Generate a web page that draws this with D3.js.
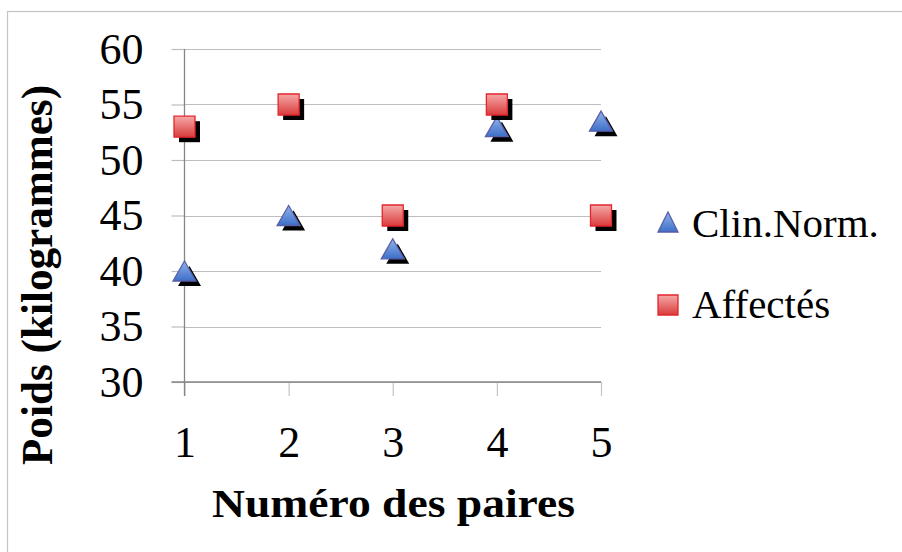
<!DOCTYPE html>
<html><head><meta charset="utf-8">
<script src="https://cdn.jsdelivr.net/npm/d3@7"></script>
<style>body{margin:0;background:#fff}svg{display:block}</style>
</head><body><svg id="c" width="902" height="552"></svg>
<script>
const pairs = [1, 2, 3, 4, 5];
const clinNorm = [40, 45, 42, 53, 53.5];
const affectes = [53, 55, 45, 55, 45];
const yTicks = [30, 35, 40, 45, 50, 55, 60];
const seriesNames = ["Clin.Norm.", "Affectés"];
const xTitle = "Numéro des paires";
const yTitle = "Poids (kilogrammes)";

const svg = d3.select("#c");
const defs = svg.append("defs");
function grad(id, c1, c2) {
  const g = defs.append("linearGradient").attr("id", id).attr("x1", 0).attr("y1", 0).attr("x2", 0).attr("y2", 1);
  g.append("stop").attr("offset", "0%").attr("stop-color", c1);
  g.append("stop").attr("offset", "100%").attr("stop-color", c2);
}
grad("gRed", "#f6a8a8", "#d93b3b");
grad("gBlue", "#93b4ec", "#3d6ec8");

svg.append("rect").attr("x", 7.5).attr("y", 11.5).attr("width", 1000).attr("height", 1000)
  .attr("fill", "none").attr("stroke", "#c4c4c4").attr("stroke-width", 1.2);

const x = d3.scaleLinear().domain([1, 5]).range([184.5, 601]);
const y = d3.scaleLinear().domain([30, 60]).range([382, 49]);
const FONT = "'Liberation Serif', 'Times New Roman', serif";

// gridlines
svg.append("g").selectAll("line").data(yTicks).join("line")
  .attr("x1", x(1)).attr("x2", x(5)).attr("y1", d => Math.round(y(d)) + 0.5).attr("y2", d => Math.round(y(d)) + 0.5)
  .attr("stroke", "#bdbdbd").attr("stroke-width", 1.2);

// y axis
const ya = svg.append("g").attr("transform", `translate(${x(1)},0)`)
  .call(d3.axisLeft(y).tickValues(yTicks).tickSize(13).tickPadding(28).tickSizeOuter(0));
ya.select(".domain").remove();
ya.selectAll(".tick line").attr("stroke", "#bdbdbd").attr("stroke-width", 1.2);
ya.selectAll(".tick text").attr("font-family", FONT).attr("font-size", 44).attr("fill", "#000");

// x axis
const xa = svg.append("g").attr("transform", `translate(0,${y(30)})`)
  .call(d3.axisBottom(x).tickValues(pairs).tickFormat(d3.format("d")).tickSize(14).tickPadding(30).tickSizeOuter(0));
xa.select(".domain").remove();
xa.selectAll(".tick line").attr("stroke", "#c4c4c4").attr("stroke-width", 1.2);
xa.selectAll(".tick text").attr("font-family", FONT).attr("font-size", 44).attr("fill", "#000");

// axis lines
svg.append("line").attr("x1", x(1)).attr("x2", x(1)).attr("y1", y(60)).attr("y2", y(30) + 14)
  .attr("stroke", "#868686").attr("stroke-width", 1.3);
svg.append("line").attr("x1", x(1) - 13).attr("x2", x(5)).attr("y1", y(30)).attr("y2", y(30))
  .attr("stroke", "#868686").attr("stroke-width", 1.3);

// markers
const TW = 23, TH = 20, SQ = 21, SH = 5;
const triPath = `M0,${-TH / 2}L${TW / 2},${TH / 2}L${-TW / 2},${TH / 2}Z`;
const sqPath = `M${-SQ / 2},${-SQ / 2}h${SQ}v${SQ}h${-SQ}Z`;
function drawSeries(vals, path, fill, stroke) {
  const g = svg.append("g");
  g.selectAll("path.sh").data(vals).join("path").attr("class", "sh")
    .attr("d", path).attr("fill", "#000")
    .attr("transform", (d, i) => `translate(${x(pairs[i]) + SH},${y(d) + SH})`);
  g.selectAll("path.mk").data(vals).join("path").attr("class", "mk")
    .attr("d", path).attr("fill", fill).attr("stroke", stroke).attr("stroke-width", 1.3)
    .attr("transform", (d, i) => `translate(${x(pairs[i])},${y(d)})`);
}
drawSeries(clinNorm, triPath, "url(#gBlue)", "#5a5ea6");
drawSeries(affectes, sqPath, "url(#gRed)", "#e2262c");

// legend
const lg = svg.append("g");
const legendItems = [
  { name: seriesNames[0], path: `M0,-10L10,10L-10,10Z`, fill: "url(#gBlue)", stroke: "#5a5ea6", cy: 222, by: 237 },
  { name: seriesNames[1], path: `M-10,-10h20v20h-20Z`, fill: "url(#gRed)", stroke: "#e2262c", cy: 305, by: 318 }
];
legendItems.forEach(it => {
  lg.append("path").attr("d", it.path)
    .attr("fill", it.fill).attr("stroke", it.stroke).attr("stroke-width", 1.3)
    .attr("transform", `translate(668,${it.cy})`);
  lg.append("text").attr("x", 692).attr("y", it.by).attr("font-family", FONT).attr("font-size", 41)
    .attr("fill", "#000").text(it.name);
});

// titles
svg.append("text").attr("x", 393.5).attr("y", 517).attr("text-anchor", "middle")
  .attr("font-family", FONT).attr("font-weight", "bold").attr("font-size", 39)
  .attr("textLength", 363).attr("lengthAdjust", "spacingAndGlyphs").attr("fill", "#000").text(xTitle);
svg.append("text").attr("transform", "translate(52,275) rotate(-90)").attr("text-anchor", "middle")
  .attr("font-family", FONT).attr("font-weight", "bold").attr("font-size", 44)
  .attr("textLength", 380).attr("lengthAdjust", "spacingAndGlyphs").attr("fill", "#000").text(yTitle);
</script></body></html>
